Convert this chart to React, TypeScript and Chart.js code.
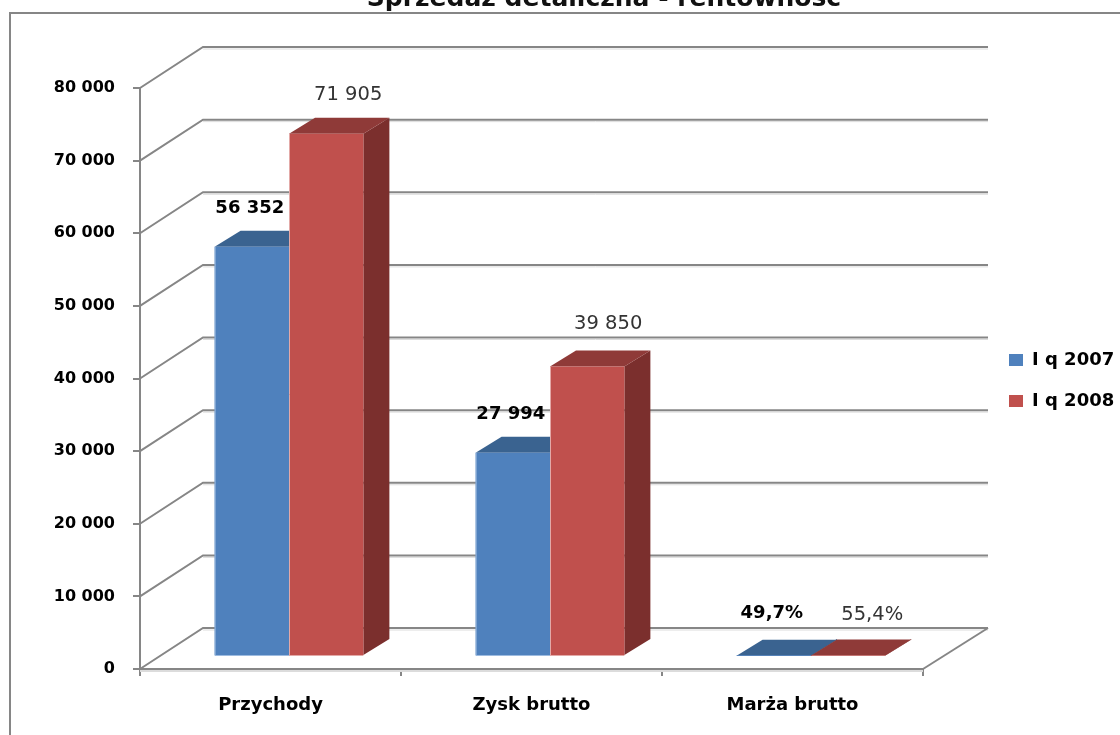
import React, { useEffect, useRef } from "react";
import { Chart, registerables } from "chart.js";

Chart.register(...registerables);

const categories = ["Przychody", "Zysk brutto", "Marża brutto"];
const seriesNames = ["I q 2007", "I q 2008"];
const iq2007 = [56352, 27994, 49.7];
const iq2008 = [71905, 39850, 55.4];
const titleText = "Sprzedaż detaliczna - rentowność";

const FONT = '"DejaVu Sans"';
const AXIS = "#868686";
const SHADOW = "#dcdcdc";
const FRONT = ["#4F81BD", "#C0504D"];
const TOP = ["#3A6390", "#8F3A38"];
const SIDE = ["#2F4F78", "#7B2F2D"];
const EDGE = ["#9DBBE0", "#E3A9A7"];
// hand-placed data label offsets, per series and category
const LABEL_DX = [[-2, -2, -2], [22, 21, 24]];
const LABEL_DY = [[-38, -38, -42], [-39, -43, -41]];

const fmt = (v: number) =>
  v < 100 ? String(v).replace(".", ",") + "%" : String(v).replace(/\B(?=(\d{3})+$)/g, " ");

function line(ctx: CanvasRenderingContext2D, pts: number[][], color: string, w: number) {
  ctx.strokeStyle = color;
  ctx.lineWidth = w;
  ctx.beginPath();
  pts.forEach((p, i) => (i ? ctx.lineTo(p[0], p[1]) : ctx.moveTo(p[0], p[1])));
  ctx.stroke();
}

function poly(ctx: CanvasRenderingContext2D, pts: number[][], color: string) {
  ctx.fillStyle = color;
  ctx.beginPath();
  pts.forEach((p, i) => (i ? ctx.lineTo(p[0], p[1]) : ctx.moveTo(p[0], p[1])));
  ctx.closePath();
  ctx.fill();
}

const threeD = {
  id: "threeD",
  beforeInit(chart: any) {
    const lf = chart.legend.fit;
    chart.legend.fit = function () {
      lf.call(this);
      this.width = 197;
    };
    const tu = chart.titleBlock.update;
    chart.titleBlock.update = function (w: number, h: number, m: any) {
      tu.call(this, w, h, m);
      this.height = 88;
      this.bottom = 88;
    };
  },
  afterLayout(chart: any) {
    const l = chart.legend;
    l.left = 986;
    l.right = 1120;
    l.top = 328;
    l.bottom = 450;
    const t = chart.titleBlock;
    t.left = 44;
    t.right = 1164;
    t.top = -16;
    t.bottom = 14;
  },
  beforeDraw(chart: any) {
    const ctx = chart.ctx;
    ctx.save();
    ctx.strokeStyle = AXIS;
    ctx.lineWidth = 2;
    ctx.strokeRect(10, 13, 1200, 800);
    ctx.restore();
  },
  beforeDatasetsDraw(chart: any) {
    const ctx: CanvasRenderingContext2D = chart.ctx;
    const { x, y } = chart.scales;
    const wallDx = 63;
    const wallDy = 41;
    const wallRight = x.right + 65;
    ctx.save();
    y.ticks.forEach((t: any) => {
      const py = y.getPixelForValue(t.value);
      line(ctx, [[x.left + wallDx, py - wallDy + 2], [wallRight, py - wallDy + 2]], SHADOW, 1);
      line(ctx, [[x.left, py], [x.left + wallDx, py - wallDy], [wallRight, py - wallDy]], AXIS, 2);
    });
    const y0 = y.getPixelForValue(0);
    line(ctx, [[x.left, y0 + 2], [x.right, y0 + 2]], SHADOW, 2);
    line(ctx, [[x.right, y0], [wallRight, y0 - wallDy]], AXIS, 2);

    // bars: shifted into the floor, then depth faces around the library's own bars
    const shiftX = 18.5;
    const shiftY = -13;
    const dx = 26;
    const dy = -16;
    const metas = [0, 1].map((i) => chart.getDatasetMeta(i));
    ctx.save();
    ctx.translate(shiftX, shiftY);
    metas.forEach((meta: any, di: number) => {
      meta.data.forEach((b: any) => {
        const l = b.x - b.width / 2;
        const r = b.x + b.width / 2;
        poly(ctx, [[r, b.y], [r + dx, b.y + dy], [r + dx, b.base + dy], [r, b.base]], SIDE[di]);
        poly(ctx, [[l, b.y], [l + dx, b.y + dy], [r + dx, b.y + dy], [r, b.y]], TOP[di]);
      });
      meta.controller.draw();
      meta.data.forEach((b: any) => {
        const l = b.x - b.width / 2;
        if (b.base - b.y > 2) line(ctx, [[l + 0.5, b.y], [l + 0.5, b.base]], EDGE[di], 1);
        if (b.base - b.y > 2) line(ctx, [[l, b.base + 0.5], [b.x + b.width / 2, b.base + 0.5]], EDGE[di], 1);
      });
    });
    ctx.textAlign = "center";
    ctx.textBaseline = "middle";
    metas.forEach((meta: any, di: number) => {
      ctx.font = di === 0 ? `bold 18px ${FONT}` : `19.5px ${FONT}`;
      ctx.fillStyle = di === 0 ? "#000000" : "#333333";
      meta.data.forEach((b: any, i: number) => {
        const v = chart.data.datasets[di].data[i];
        ctx.fillText(fmt(v), b.x + LABEL_DX[di][i], b.y + LABEL_DY[di][i]);
      });
    });
    ctx.restore();
    ctx.restore();
    return false;
  },
};

export default function App() {
  const ref = useRef<HTMLCanvasElement>(null);
  useEffect(() => {
    document.body.style.margin = "0";
    const chart = new Chart(ref.current as HTMLCanvasElement, {
      type: "bar",
      data: {
        labels: categories,
        datasets: [
          { label: seriesNames[0], data: iq2007, backgroundColor: FRONT[0] },
          { label: seriesNames[1], data: iq2008, backgroundColor: FRONT[1] },
        ],
      },
      options: {
        animation: false,
        responsive: false,
        layout: { padding: 0, autoPadding: false },
        categoryPercentage: 0.57,
        barPercentage: 1,
        scales: {
          x: {
            afterFit: (s: any) => {
              s.height = 66;
            },
            border: { color: AXIS, width: 2 },
            grid: { display: true, drawOnChartArea: false, drawTicks: true, tickLength: 7, color: AXIS, lineWidth: 2, offset: true },
            ticks: { color: "#000000", padding: 19, font: { family: FONT, size: 18, weight: "bold" }, maxRotation: 0 },
          },
          y: {
            min: 0,
            max: 80000,
            afterFit: (s: any) => {
              s.width = 140;
            },
            border: { color: AXIS, width: 2 },
            grid: { display: true, drawOnChartArea: false, drawTicks: true, tickLength: 7, color: AXIS, lineWidth: 2 },
            ticks: {
              stepSize: 10000,
              color: "#000000",
              padding: 18,
              font: { family: FONT, size: 16, weight: "bold" },
              callback: (v: any) => fmt(Number(v) || 0).replace("0%", "0"),
            },
          },
        },
        plugins: {
          tooltip: { enabled: false },
          title: {
            display: true,
            text: titleText,
            color: "#111111",
            padding: 0,
            font: { family: FONT, size: 25, weight: "bold" },
          },
          legend: {
            position: "right",
            align: "start",
            labels: {
              boxWidth: 14,
              boxHeight: 12,
              padding: 23,
              color: "#000000",
              font: { family: FONT, size: 18, weight: "bold" },
            },
          },
        },
      } as any,
      plugins: [threeD as any],
    });
    return () => chart.destroy();
  }, []);
  return <canvas ref={ref} width={1120} height={735} style={{ display: "block" }} />;
}
